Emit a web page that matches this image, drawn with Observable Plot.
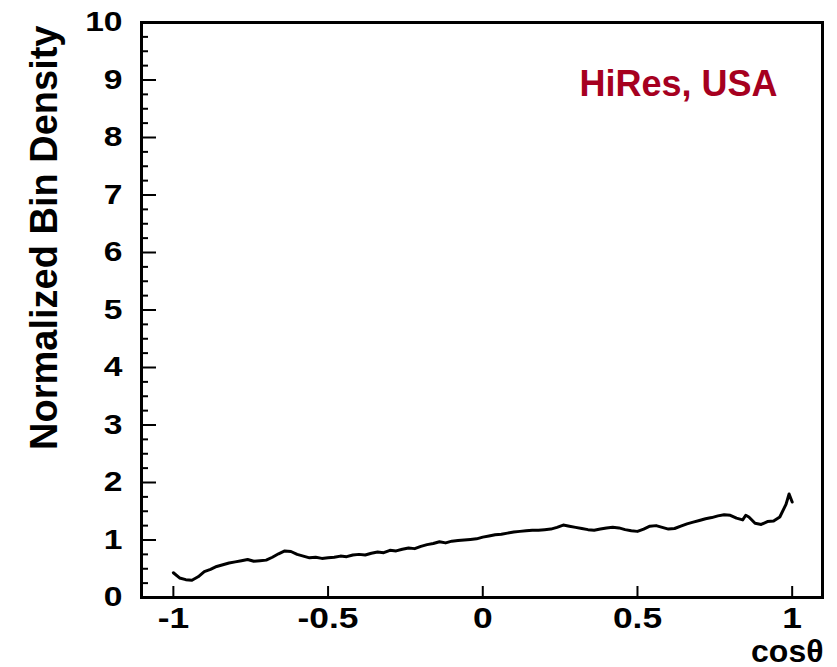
<!DOCTYPE html>
<html><head><meta charset="utf-8">
<script src="https://cdn.jsdelivr.net/npm/d3@7"></script>
<script src="https://cdn.jsdelivr.net/npm/@observablehq/plot@0.6"></script>
<style>body{margin:0;background:#fff} svg{display:block}</style>
</head><body><div id="chart"></div>
<script>
const cosTheta = [-1.00,-0.98,-0.96,-0.94,-0.92,-0.90,-0.88,-0.86,-0.84,-0.82,-0.80,-0.78,-0.76,-0.74,-0.72,-0.70,-0.68,-0.66,-0.64,-0.62,-0.60,-0.58,-0.56,-0.54,-0.52,-0.50,-0.48,-0.46,-0.44,-0.42,-0.40,-0.38,-0.36,-0.34,-0.32,-0.30,-0.28,-0.26,-0.24,-0.22,-0.20,-0.18,-0.16,-0.14,-0.12,-0.10,-0.08,-0.06,-0.04,-0.02,0.00,0.02,0.04,0.06,0.08,0.10,0.12,0.14,0.16,0.18,0.20,0.22,0.24,0.26,0.28,0.30,0.32,0.34,0.36,0.38,0.40,0.42,0.44,0.46,0.48,0.50,0.52,0.54,0.56,0.58,0.60,0.62,0.64,0.66,0.68,0.70,0.72,0.74,0.76,0.78,0.80,0.82,0.84,0.85,0.86,0.88,0.90,0.92,0.94,0.96,0.98,0.99,1.00];
const density = [0.43,0.34,0.31,0.30,0.36,0.45,0.49,0.54,0.57,0.60,0.62,0.64,0.66,0.63,0.64,0.65,0.70,0.76,0.81,0.80,0.75,0.72,0.69,0.70,0.68,0.69,0.70,0.72,0.71,0.74,0.75,0.74,0.77,0.79,0.78,0.82,0.81,0.84,0.86,0.85,0.89,0.92,0.94,0.97,0.95,0.98,0.99,1.00,1.01,1.02,1.05,1.07,1.09,1.10,1.12,1.14,1.15,1.16,1.17,1.17,1.18,1.19,1.22,1.26,1.24,1.22,1.20,1.18,1.17,1.19,1.21,1.22,1.21,1.18,1.16,1.15,1.19,1.24,1.25,1.22,1.19,1.20,1.24,1.28,1.31,1.34,1.37,1.39,1.42,1.44,1.43,1.38,1.35,1.43,1.40,1.29,1.27,1.32,1.33,1.40,1.62,1.80,1.66];
const xTicks = [-1, -0.5, 0, 0.5, 1];
const yTicks = [0, 1, 2, 3, 4, 5, 6, 7, 8, 9, 10];
const yMinorTicks = [0.25,0.5,0.75,1.25,1.5,1.75,2.25,2.5,2.75,3.25,3.5,3.75,4.25,4.5,4.75,5.25,5.5,5.75,6.25,6.5,6.75,7.25,7.5,7.75,8.25,8.5,8.75,9.25,9.5,9.75];
const annotation = "HiRes, USA";
const xTitle = "cosθ";
const yTitle = "Normalized Bin Density";

const rows = cosTheta.map((x, i) => ({x, y: density[i]}));
const font = "Arial, 'Liberation Sans', Helvetica, sans-serif";

const plot = Plot.plot({
  width: 837, height: 667,
  marginLeft: 141, marginRight: 15, marginTop: 22, marginBottom: 70,
  style: {fontFamily: font, fontWeight: "bold", background: "#fff", color: "black"},
  x: {domain: [-1.103, 1.098]},
  y: {domain: [0, 10]},
  marks: [
    Plot.axisY(yMinorTicks, {anchor: "left", tickSize: -7, strokeWidth: 2, tickFormat: () => "", label: null}),
    Plot.axisY(yTicks, {anchor: "left", tickSize: -15, strokeWidth: 2, tickFormat: () => "", label: null}),
    Plot.axisY(yTicks, {anchor: "left", tickSize: 0, tickPadding: 19, fontSize: 28, label: null, fill: "black", tickFormat: d => String(d)}),
    Plot.axisX(xTicks, {anchor: "bottom", tickSize: -11, strokeWidth: 2, tickFormat: () => "", label: null}),
    Plot.axisX(xTicks, {anchor: "bottom", tickSize: 0, tickPadding: 10, fontSize: 29, label: null, fill: "black", tickFormat: d => String(d)}),
    Plot.frame({stroke: "black", strokeWidth: 3}),
    Plot.line(rows, {x: "x", y: "y", stroke: "black", strokeWidth: 3}),
    Plot.text([annotation], {frameAnchor: "top-right", text: d => d, dx: -45, dy: 48, fontSize: 36, fill: "#a6001f", textAnchor: "end", ariaLabel: "annotation"}),
    Plot.text([yTitle], {frameAnchor: "top-left", text: d => d, rotate: -90, textAnchor: "end", dx: -111, dy: 3, fontSize: 38, fill: "black", ariaLabel: "ytitle"}),
    Plot.text([xTitle], {frameAnchor: "bottom-right", text: d => d, textAnchor: "end", dx: 1, dy: 64, fontSize: 32, fill: "black", ariaLabel: "xtitle"})
  ]
});

function stretch(sel, s) {
  d3.select(plot).selectAll(sel).each(function () {
    this.setAttribute("transform", (this.getAttribute("transform") || "") + " " + s);
  });
}
stretch('g[aria-label="y-axis tick label"] text', "scale(1.2,1)");
stretch('g[aria-label="x-axis tick label"] text', "scale(1.22,1)");
stretch('g[aria-label="ytitle"] text', "scale(1,1.2)");
stretch('g[aria-label="xtitle"] text', "scale(1.12,1)");
stretch('g[aria-label="annotation"] text', "scale(1.06,1)");

document.getElementById("chart").appendChild(plot);
</script>
</body></html>
